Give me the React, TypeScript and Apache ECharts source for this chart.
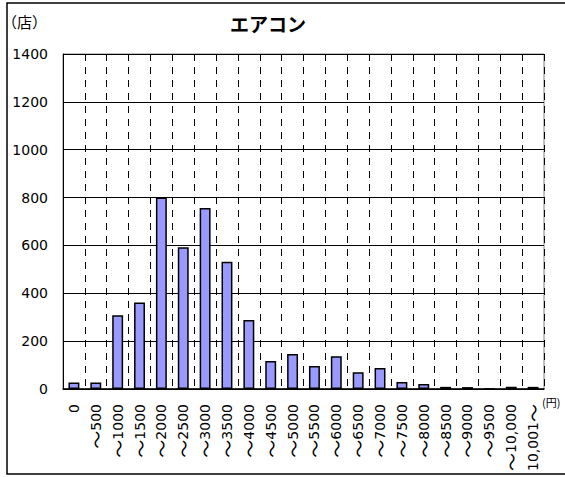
import React, { useEffect, useRef } from "react";
import * as echarts from "echarts";

const categories = [
  "0", "～500", "～1000", "～1500", "～2000", "～2500", "～3000", "～3500",
  "～4000", "～4500", "～5000", "～5500", "～6000", "～6500", "～7000",
  "～7500", "～8000", "～8500", "～9000", "～9500", "～10,000", "10,001～",
];
const storeCounts = [
  27, 27, 308, 362, 800, 592, 756, 532, 288, 117, 146, 96, 137, 70, 88,
  29, 21, 9, 8, 0, 9, 9,
];
const yTicks = { min: 0, max: 1400, interval: 200 };
const titleText = "エアコン";
const yUnit = "（店）";
const xUnit = "(円)";

export default function App() {
  const ref = useRef<HTMLDivElement>(null);
  useEffect(() => {
    if (!ref.current) return;
    const chart = echarts.init(ref.current, null, { renderer: "svg" });
    const font = "'DejaVu Sans', 'Noto Sans CJK JP', sans-serif";
    const cjk = "'Noto Sans CJK JP', sans-serif";
    chart.setOption({
      animation: false,
      backgroundColor: "#ffffff",
      textStyle: { fontFamily: font },
      grid: {
        left: 63,
        right: 21,
        top: 54,
        bottom: 88,
        show: true,
        borderColor: "#808080",
        borderWidth: 1,
        backgroundColor: "transparent",
      },
      xAxis: {
        type: "category",
        data: categories,
        boundaryGap: true,
        axisLine: { show: true, lineStyle: { color: "#000", width: 1.5 } },
        axisTick: { show: false },
        axisLabel: {
          rotate: 90,
          interval: 0,
          fontSize: 14,
          color: "#000",
          margin: 15,
          fontFamily: font,
          formatter: (v: string) => v.split("～").join("{t|～}"),
          rich: {
            t: { fontFamily: cjk, fontSize: 18, color: "#000" },
          },
        },
        splitLine: {
          show: true,
          interval: 0,
          lineStyle: { color: "#000", type: [7, 6], width: 1 },
        },
      },
      yAxis: {
        type: "value",
        min: yTicks.min,
        max: yTicks.max,
        interval: yTicks.interval,
        axisLine: { show: true, lineStyle: { color: "#000", width: 1 } },
        axisTick: { show: false },
        axisLabel: {
          fontSize: 14,
          color: "#000",
          margin: 15,
          fontFamily: font,
          formatter: (v: number) => String(v),
        },
        splitLine: { show: true, lineStyle: { color: "#000", width: 1 } },
      },
      series: [
        {
          type: "bar",
          data: storeCounts,
          barWidth: "50%",
          itemStyle: { color: "#9999FF", borderColor: "#000", borderWidth: 1.5 },
        },
      ],
      graphic: [
        {
          type: "rect",
          shape: { x: 7, y: 3, width: 570, height: 471 },
          style: { fill: "none", stroke: "#000", lineWidth: 1.5 },
          silent: true,
          z: -1,
        },
        {
          type: "text",
          x: 268,
          y: 23,
          style: {
            text: titleText,
            fontSize: 19,
            fontWeight: "bold",
            fontFamily: cjk,
            fill: "#000",
            align: "center",
            verticalAlign: "middle",
          },
        },
        {
          type: "text",
          x: 2,
          y: 21,
          style: {
            text: yUnit,
            fontSize: 15,
            fontFamily: cjk,
            fill: "#000",
            align: "left",
            verticalAlign: "middle",
          },
        },
        {
          type: "text",
          x: 542,
          y: 402,
          style: {
            text: xUnit,
            fontSize: 11,
            fontFamily: cjk,
            fill: "#000",
            align: "left",
            verticalAlign: "middle",
          },
        },
      ],
    });
    return () => chart.dispose();
  }, []);
  return (
    <div
      ref={ref}
      style={{ position: "absolute", left: 0, top: 0, width: 565, height: 477 }}
    />
  );
}
